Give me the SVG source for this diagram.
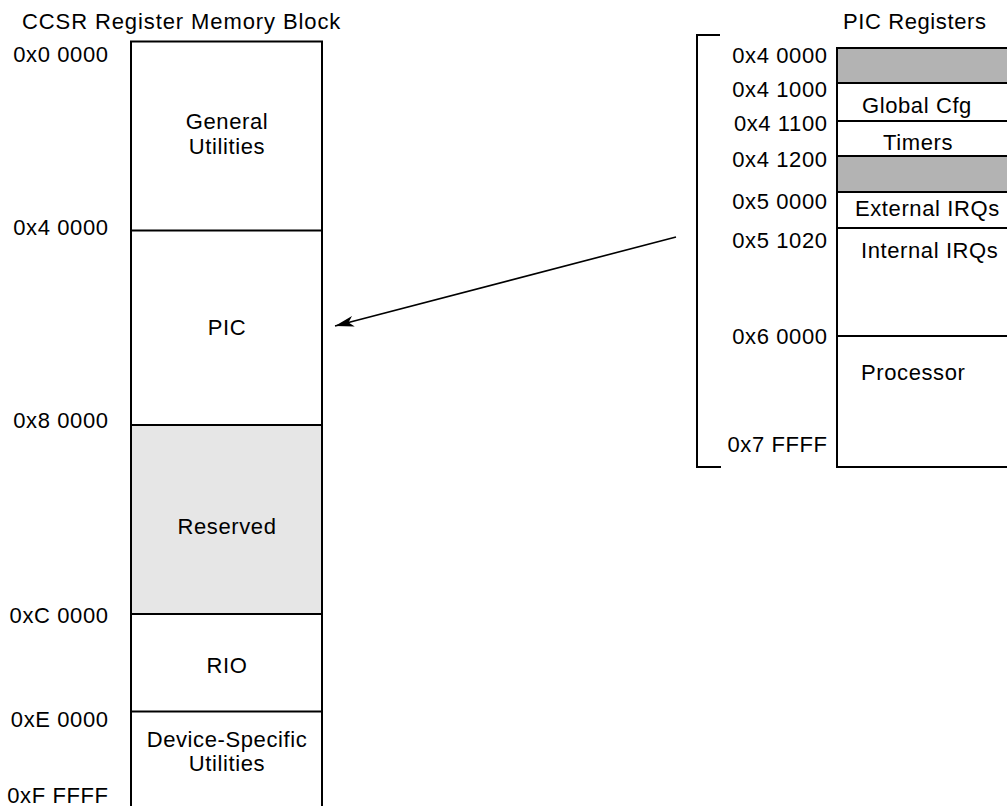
<svg xmlns="http://www.w3.org/2000/svg" width="1007" height="806" viewBox="0 0 1007 806">
<style>
text{font-family:"Liberation Sans",Arial,Helvetica,sans-serif;font-size:22px;letter-spacing:0.6px;fill:#000}
.e{text-anchor:end}
.m{text-anchor:middle}
.t{letter-spacing:0.9px}
.dk{fill:#b3b3b3;stroke:none}
.lt{fill:#e6e6e6;stroke:none}
.ln{stroke:#000;stroke-width:2;fill:none}
</style>
<defs>
<marker id="ah" markerUnits="userSpaceOnUse" viewBox="-20 -7 21 14" refX="0" refY="0" markerWidth="21" markerHeight="14" orient="auto">
<path d="M0,0 L-19,-5.5 L-14,0 L-19,5.5 Z" fill="#000"/>
</marker>
</defs>
<rect width="1007" height="806" fill="#fff"/>

<g id="ccsr-block">
<text class="t" x="22" y="29">CCSR Register Memory Block</text>
<g id="general-utilities">
<text class="e" x="108.6" y="62">0x0 0000</text>
<text class="m" x="227" y="129">General</text>
<text class="m" x="227" y="154">Utilities</text>
</g>
<g id="pic">
<text class="e" x="108.6" y="235">0x4 0000</text>
<text class="m" x="227" y="335">PIC</text>
</g>
<g id="reserved">
<rect class="lt" x="131" y="425" width="191" height="189"/>
<text class="e" x="108.6" y="428">0x8 0000</text>
<text class="m" x="227" y="534">Reserved</text>
</g>
<g id="rio">
<text class="e" x="108.6" y="623">0xC 0000</text>
<text class="m" x="227" y="673">RIO</text>
</g>
<g id="device-specific">
<text class="e" x="108.6" y="727">0xE 0000</text>
<text class="e" x="108.6" y="803">0xF FFFF</text>
<text class="m" x="227" y="747">Device-Specific</text>
<text class="m" x="227" y="771">Utilities</text>
</g>
<path class="ln" d="M131,806 V41.5 H322 V806"/>
<path class="ln" d="M131,230.5 H322 M131,425 H322 M131,614 H322 M131,711.5 H322"/>
</g>

<g id="pic-registers">
<text x="843" y="29">PIC Registers</text>
<path class="ln" d="M720,35 H697 V467 H721"/>
<rect class="dk" x="837" y="48" width="170" height="35"/>
<rect class="dk" x="837" y="156" width="170" height="36"/>
<g id="r-40000"><text class="e" x="827.6" y="63">0x4 0000</text></g>
<g id="r-global"><text class="e" x="827.6" y="97">0x4 1000</text><text x="862" y="113">Global Cfg</text></g>
<g id="r-timers"><text class="e" x="827.6" y="131">0x4 1100</text><text x="883" y="150">Timers</text></g>
<g id="r-41200"><text class="e" x="827.6" y="167">0x4 1200</text></g>
<g id="r-external"><text class="e" x="827.6" y="209">0x5 0000</text><text x="855" y="216">External IRQs</text></g>
<g id="r-internal"><text class="e" x="827.6" y="248">0x5 1020</text><text x="861" y="258">Internal IRQs</text></g>
<g id="r-processor"><text class="e" x="827.6" y="344">0x6 0000</text><text x="861" y="380">Processor</text><text class="e" x="827.6" y="452">0x7 FFFF</text></g>
<path class="ln" d="M1007,48 H837 V467 H1007"/>
<path class="ln" d="M837,83 H1007 M837,121 H1007 M837,156 H1007 M837,192 H1007 M837,228 H1007 M837,336 H1007"/>
</g>

<g id="connectors">
<line x1="676" y1="237" x2="335" y2="326" stroke="#000" stroke-width="1.6" marker-end="url(#ah)"/>
</g>
</svg>
